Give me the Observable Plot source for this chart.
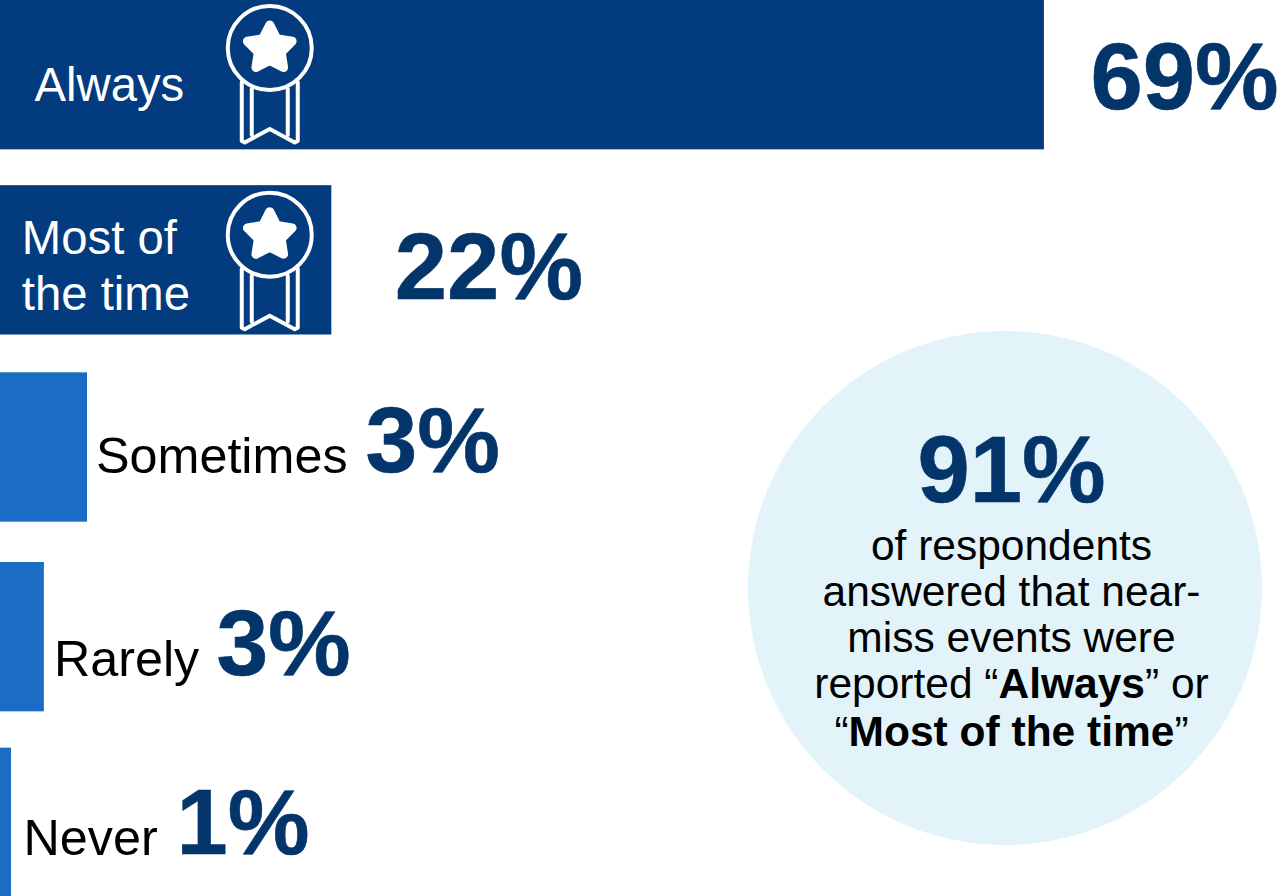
<!DOCTYPE html>
<html>
<head>
<meta charset="utf-8">
<script src="https://cdn.jsdelivr.net/npm/d3@7"></script>
<script src="https://cdn.jsdelivr.net/npm/@observablehq/plot@0.6"></script>
<style>
html,body{margin:0;padding:0;background:#fff;overflow:hidden}
svg{display:block}
</style>
</head>
<body>
<div id="chart"></div>
<script>
const categories = ["Always", "Most of the time", "Sometimes", "Rarely", "Never"];
const categoryLabels = ["Always", "Most of\nthe time", "Sometimes", "Rarely", "Never"];
const barLengths = [69, 21.9, 5.75, 2.9, 0.73];
const percentLabels = ["69%", "22%", "3%", "3%", "1%"];
const medalCategories = ["Always", "Most of the time"];
const calloutValue = "91%";
const calloutLines = ["of respondents", "answered that near-", "miss events were", "reported “Always” or", "“Most of the time”"];
const calloutBold = ["Always", "Most of the time"];

const font = "Liberation Sans, Arial, sans-serif";
const dark = "#023b7e", mid = "#1a6cc4", ink = "#03356a";
const rows = categories.map((c, i) => ({category: c, label: categoryLabels[i], value: barLengths[i], pct: percentLabels[i]}));

// pixel offsets of bars and annotations, relative to each bar's end and band centre
const barNudge = [0, -1.5, -1, 2, 1];
const labelStyle = [
  {fill: "#fff", size: 47.3, dx: -1010, dy: 25.5, pdx: 46, pdy: 34, psize: 94},
  {fill: "#fff", size: 47.3, dx: -310, dy: 48.5, pdx: 63, pdy: 37, psize: 94},
  {fill: "#000", size: 50.3, dx: 8.5, dy: 24, pdx: 278, pdy: 23, psize: 93},
  {fill: "#000", size: 50.3, dx: 9.5, dy: 41, pdx: 172, pdy: 40, psize: 93},
  {fill: "#000", size: 50.3, dx: 12, dy: 33, pdx: 165, pdy: 32, psize: 92}
];

function medals(index, scales) {
  const g = d3.create("svg:g").attr("fill", "none").attr("stroke", "#fff").attr("stroke-width", 4)
    .attr("stroke-linejoin", "round").attr("stroke-linecap", "round");
  for (const c of medalCategories) {
    const m = g.append("g").attr("transform", `translate(${scales.x(17.83)},${scales.y(c) + 48})`);
    m.append("circle").attr("r", 42);
    const pts = d3.range(10).map(i => {
      const r = i % 2 ? 12 : 23.5;
      const a = -Math.PI / 2 + i * Math.PI / 5;
      return [r * Math.cos(a), r * Math.sin(a) + 0.5];
    });
    m.append("path").attr("d", "M" + pts.join("L") + "Z").attr("fill", "#fff").attr("stroke-width", 9);
    m.append("path").attr("d", "M-28,34V93L-25,94.5L0,81L25,94.5L28,93V34");
    m.append("path").attr("d", "M-18,41V87M18,41V87");
  }
  return g.node();
}

function richText(index, scales, values, dims, ctx, next) {
  const g = next(index, scales, values, dims, ctx);
  g.querySelectorAll("text").forEach(t => {
    const s = t.textContent;
    const word = calloutBold.find(b => s.includes("“" + b + "”"));
    if (!word) return;
    const [a, b] = s.split(word);
    t.textContent = "";
    const sel = d3.select(t);
    sel.append("tspan").text(a);
    sel.append("tspan").attr("font-weight", "bold").text(word);
    sel.append("tspan").text(b);
  });
  return g;
}

const barMarks = rows.map((r, i) => Plot.barX([r], {x: "value", y: "category", dy: barNudge[i], fill: i < 2 ? dark : mid}));

const rowMarks = rows.flatMap((r, i) => {
  const st = labelStyle[i];
  return [
    Plot.text([r], {x: "value", y: "category", text: "label", dx: st.dx, dy: st.dy, fill: st.fill,
      fontSize: st.size, fontFamily: font, textAnchor: "start", lineAnchor: "bottom", lineHeight: 1.2}),
    Plot.text([r], {x: "value", y: "category", text: "pct", dx: st.pdx, dy: st.pdy, fill: ink,
      stroke: ink, strokeWidth: 0.6, fontSize: st.psize, fontWeight: "bold", fontFamily: font, textAnchor: "start", lineAnchor: "bottom"})
  ];
});

const lineBaselines = [559.5, 605, 651, 697, 745];

const chart = Plot.plot({
  width: 1281, height: 896,
  marginTop: 0, marginRight: 0, marginBottom: 0, marginLeft: 0,
  style: {background: "#fff", fontFamily: font},
  x: {axis: null, domain: [0, 84.67], range: [0, 1281]},
  y: {axis: null, domain: categories, range: [0, 896], paddingInner: 0.2, paddingOuter: 0, round: false},
  marks: [
    ...barMarks,
    medals,
    Plot.dot([calloutValue], {frameAnchor: "top-left", dx: 1004.5, dy: 587.5, r: 257, fill: "#e2f3f9", stroke: "none"}),
    Plot.text([calloutValue], {frameAnchor: "top-left", dx: 1011, dy: 501, text: d => d, fill: ink, stroke: ink, strokeWidth: 0.6, fontSize: 94,
      fontWeight: "bold", fontFamily: font, textAnchor: "middle", lineAnchor: "bottom"}),
    ...calloutLines.map((l, i) => Plot.text([l], {frameAnchor: "top-left", dx: 1011, dy: lineBaselines[i], text: d => d,
      fill: "#000", fontSize: 42.5, fontFamily: font, textAnchor: "middle", lineAnchor: "bottom", render: richText})),
    ...rowMarks
  ]
});
document.getElementById("chart").append(chart);
</script>
</body>
</html>
